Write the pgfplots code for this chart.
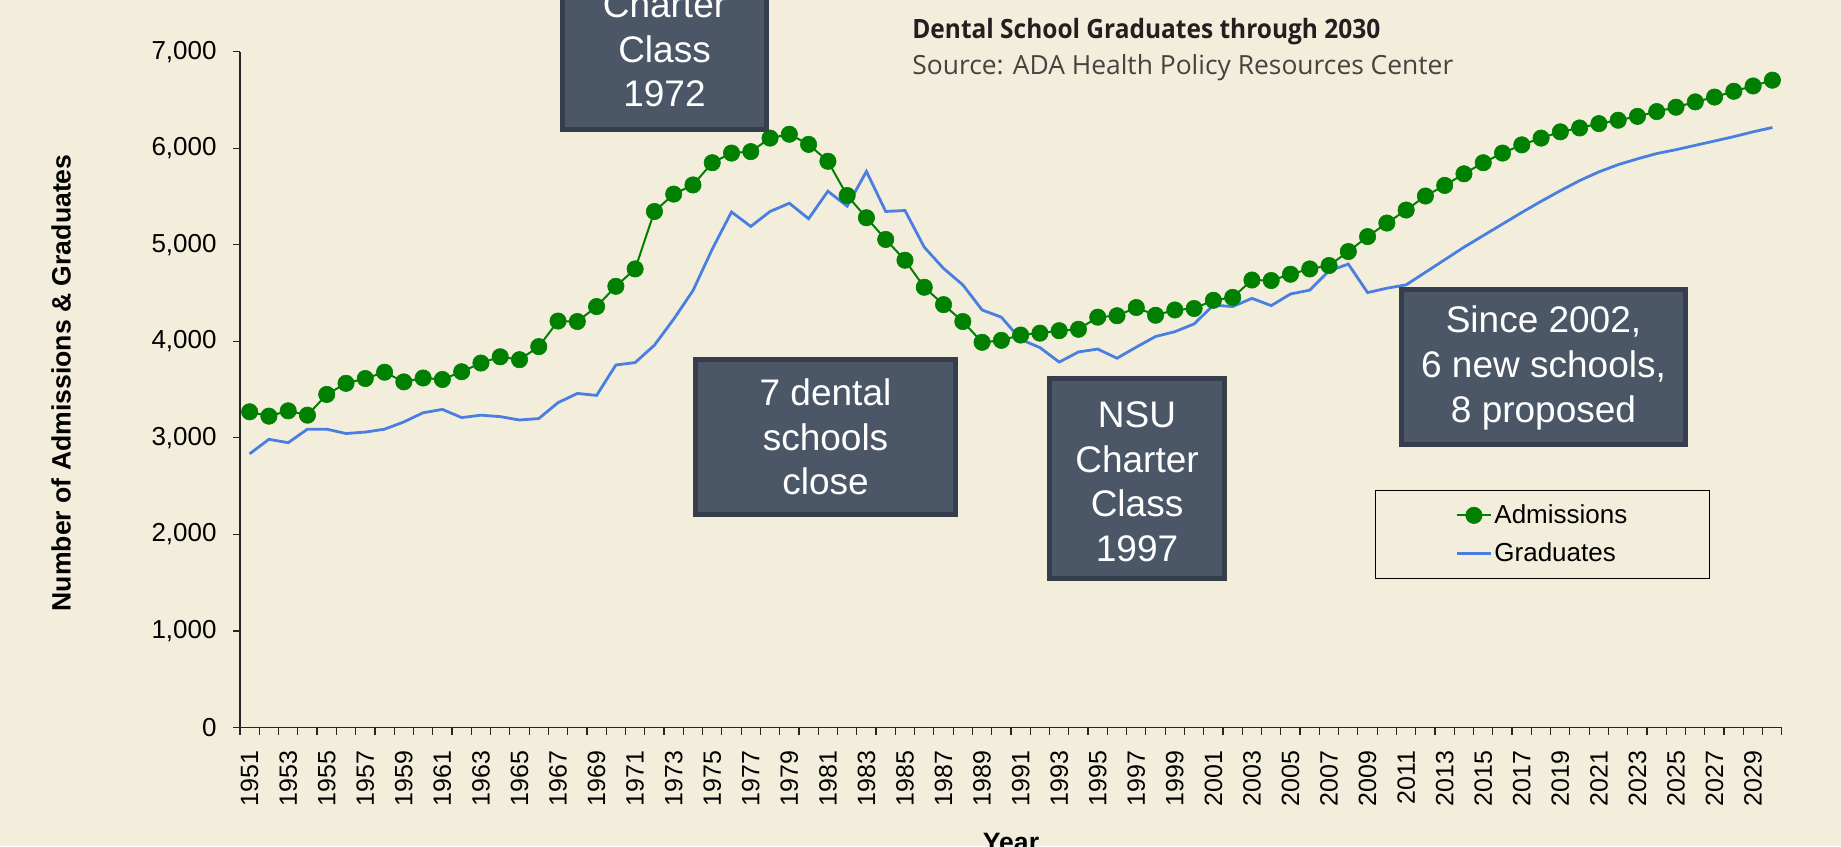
\documentclass[border=0pt]{standalone}
\usepackage{fontspec}
\setmainfont{Liberation Sans}
\newfontfamily\titlefont{Open Sans}
\usepackage{pgfplots}
\pgfplotsset{compat=1.18}
\usepackage{pgfplotstable}

\definecolor{bg}{RGB}{243,238,220}
\definecolor{boxfill}{RGB}{75,87,103}
\definecolor{boxline}{RGB}{53,62,74}
\definecolor{admgreen}{RGB}{0,128,0}
\definecolor{gradblue}{RGB}{74,126,224}
\definecolor{titlecol}{RGB}{35,31,32}
\definecolor{subcol}{RGB}{70,66,62}

\pgfplotstableread{
year adm grad
1951 3270 2835
1952 3225 2985
1953 3280 2950
1954 3235 3090
1955 3450 3090
1956 3565 3045
1957 3615 3060
1958 3680 3090
1959 3580 3165
1960 3620 3260
1961 3605 3295
1962 3685 3210
1963 3775 3235
1964 3840 3220
1965 3810 3185
1966 3945 3200
1967 4210 3365
1968 4205 3460
1969 4360 3440
1970 4570 3755
1971 4750 3780
1972 5345 3960
1973 5525 4230
1974 5620 4525
1975 5850 4955
1976 5950 5340
1977 5965 5190
1978 6105 5345
1979 6145 5430
1980 6040 5270
1981 5865 5555
1982 5510 5400
1983 5280 5760
1984 5055 5345
1985 4840 5355
1986 4560 4975
1987 4380 4755
1988 4205 4585
1989 3990 4325
1990 4010 4250
1991 4065 4020
1992 4085 3935
1993 4110 3785
1994 4125 3890
1995 4250 3920
1996 4265 3825
1997 4350 3940
1998 4270 4050
1999 4325 4100
2000 4340 4180
2001 4425 4375
2002 4455 4360
2003 4635 4445
2004 4630 4370
2005 4695 4490
2006 4750 4530
2007 4785 4730
2008 4930 4800
2009 5085 4505
2010 5225 4550
2011 5360 4585
2012 5505 4715
2013 5615 4845
2014 5735 4975
2015 5850 5095
2016 5950 5215
2017 6035 5335
2018 6105 5450
2019 6170 5560
2020 6210 5665
2021 6255 5755
2022 6290 5830
2023 6330 5890
2024 6380 5945
2025 6425 5985
2026 6480 6030
2027 6530 6075
2028 6590 6120
2029 6645 6170
2030 6705 6215
}\datatable

\begin{document}
\begin{tikzpicture}
\useasboundingbox (0,0) rectangle (920.5pt,423pt);
\clip (0,0) rectangle (920.5pt,423pt);
\fill[bg] (0,0) rectangle (920.5pt,423pt);

\begin{axis}[
  at={(120pt,59.25pt)}, anchor=south west,
  scale only axis, width=771pt, height=337.9pt,
  xmin=1950.5, xmax=2030.5, ymin=0, ymax=7000,
  axis x line=bottom, axis y line=left,
  axis line style={-, black!85, line width=0.8pt},
  clip=false,
  xtick={1951,1953,...,2029},
  minor xtick={1950.5,1951.5,...,2030.5},
  major x tick style={draw=none},
  minor x tick style={black!85, line width=0.6pt},
  ytick={0,1000,...,7000},
  y tick style={black!85, line width=0.6pt},
  tick align=outside,
  major tick length=3.5pt, minor tick length=3.5pt,
  /pgf/number format/assume math mode=true,
  xticklabel style={rotate=90, anchor=east, inner sep=0pt,
    font=\fontsize{12.5}{14}\selectfont, /pgf/number format/1000 sep={}},
  xticklabel shift=8pt,
  yticklabel style={inner sep=0pt, font=\fontsize{13}{15}\selectfont,
    /pgf/number format/1000 sep={,}},
  yticklabel shift=8pt,
  ylabel={Number of Admissions \& Graduates},
  ylabel style={at={(axis description cs:-0.116,0.51)}, anchor=center,
    font=\bfseries\fontsize{13.3}{16}\selectfont},
  xlabel={Year},
  xlabel style={at={(axis description cs:0.5,0)}, anchor=north, yshift=-52.75pt,
    inner sep=0pt, font=\bfseries\fontsize{13.3}{16}\selectfont},
  legend style={at={(axis description cs:0.7361,0.3514)}, anchor=north west,
    draw=black, fill=none, inner xsep=40pt, inner ysep=6pt,
    font=\fontsize{13}{15}\selectfont, row sep=6pt, nodes={inner sep=1pt}},
  legend cell align=left,
]
\addplot[admgreen, line width=1pt, mark=*, mark size=4.1pt,
  mark options={fill=admgreen, draw=admgreen, line width=0.3pt}]
  table[x=year, y=adm] {\datatable};
\addlegendentry{Admissions}
\addplot[gradblue, line width=1.4pt, mark=none]
  table[x=year, y=grad] {\datatable};
\addlegendentry{Graduates}
\end{axis}

% titles
\node[anchor=base west, inner sep=0pt, text=titlecol, xscale=0.92,
  font=\titlefont\bfseries\fontsize{13.3}{15}\selectfont] at (456pt,403.8pt)
  {Dental School Graduates through 2030};
\node[anchor=base west, inner sep=0pt, text=subcol,
  font=\titlefont\fontsize{13.2}{15}\selectfont] at (456pt,385.5pt)
  {Source: ADA Health Policy Resources Center};

% annotation boxes
\tikzset{abox/.style={fill=boxfill, draw=boxline, line width=2.5pt},
  atext/.style={align=center, text=white, inner sep=0pt,
    font=\fontsize{18.5}{22.3}\selectfont}}
\path[abox] (281.25pt,358.25pt) rectangle (383.25pt,470pt);
\node[atext] at (332.25pt,398.5pt) {Charter\\Class\\1972};
\path[abox] (347.75pt,165.75pt) rectangle (477.75pt,243.25pt);
\node[atext] at (412.75pt,204.5pt) {7 dental\\schools\\close};
\path[abox] (524.75pt,133.75pt) rectangle (612.25pt,233.75pt);
\node[atext] at (568.5pt,182.1pt) {NSU\\Charter\\Class\\1997};
\path[abox] (700.75pt,200.75pt) rectangle (842.75pt,278.25pt);
\node[atext] at (771.75pt,239pt) {Since 2002,\\6 new schools,\\8 proposed};
\end{tikzpicture}
\end{document}
